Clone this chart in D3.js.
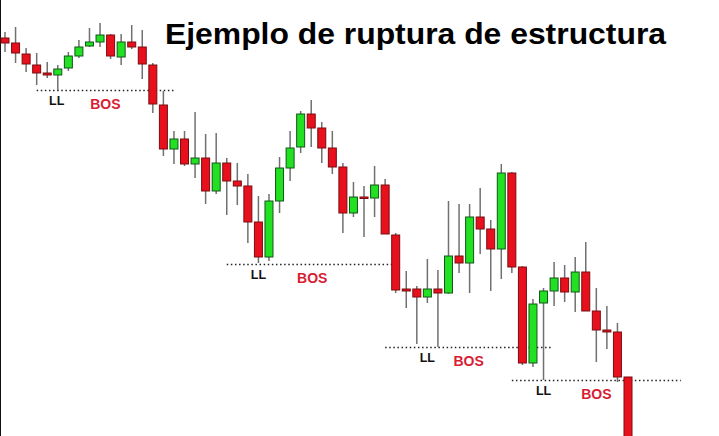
<!DOCTYPE html>
<html lang="es">
  <head>
    <meta charset="UTF-8" />
    <script src="https://d3js.org/d3.v7.min.js"></script>
    <title>Ejemplo de ruptura de estructura</title>
    <style>
      body { margin: 0; background: #fff; }
      svg { display: block; font-family: 'Liberation Sans', Arial, sans-serif; }
    </style>
  </head>
  <body>
    <script>
      const width = 719
      const height = 436

      // precios (unidades arbitrarias)
      const open  = [462,457,446,435,427,425,432,444,454,458,465,443,458,453,435,395,351,361,336,342,309,337,319,314,278,243,299,332,353,386,372,352,333,287,303,302,315,265,211,211,203,211,207,244,237,283,271,251,327,233,137,197,209,222,208,228,189,170,168,123]
      const high  = [468,473,452,447,438,435,448,460,472,477,466,466,475,470,437,409,369,369,388,366,367,342,337,326,304,306,343,369,389,400,378,369,337,318,314,334,321,267,229,214,241,230,299,296,296,312,280,336,328,234,201,212,238,235,243,258,212,194,177,123]
      const low   = [448,437,428,415,422,410,429,442,453,453,441,435,451,421,387,344,336,334,322,296,306,285,295,257,237,239,287,319,347,353,337,326,267,283,263,283,266,207,192,156,197,153,206,227,207,246,209,221,227,135,133,120,194,198,188,189,138,151,118,56]
      const close = [457,447,436,427,425,431,444,453,458,465,444,458,453,436,396,351,361,336,342,309,337,319,314,278,243,299,332,352,386,372,352,333,287,303,302,315,266,210,209,203,211,207,244,237,283,271,251,327,233,137,196,209,222,208,228,189,170,168,123,56]

      // niveles rotos: precio, desde / hasta (indice de vela), posicion de etiquetas
      const levelPrice = [410, 236, 153, 120]
      const levelFrom  = [3, 21, 36, 48]
      const levelTo    = [16, 36.7, 51.9, 64]
      const llAt       = [4.9, 24, 40, 51]
      const bosAt      = [9.5, 29.1, 43.9, 56]

      const title = 'Ejemplo de ruptura de estructura'

      const candles = open.map((o, i) => ({ i, o, h: high[i], l: low[i], c: close[i] }))

      const x = d3.scaleLinear().domain([0, 59]).range([5, 628])
      const y = d3.scaleLinear().domain([500, 64]).range([0, height])

      const svg = d3.select('body')
        .append('svg')
        .attr('width', width)
        .attr('height', height)

      svg.append('line')
        .attr('x1', 0.5).attr('x2', 0.5)
        .attr('y1', 0).attr('y2', height)
        .attr('stroke', '#111')

      const levels = levelPrice.map((p, k) => ({ p, from: levelFrom[k], to: levelTo[k], ll: llAt[k], bos: bosAt[k] }))

      svg.append('g')
        .selectAll('line')
        .data(levels)
        .join('line')
        .attr('x1', d => x(d.from))
        .attr('x2', d => x(d.to))
        .attr('y1', d => Math.round(y(d.p)) + 0.5)
        .attr('y2', d => Math.round(y(d.p)) + 0.5)
        .attr('stroke', '#222')
        .attr('stroke-width', 1.3)
        .attr('stroke-dasharray', '1.5,2.6')

      const g = svg.append('g')

      g.selectAll('line.wick')
        .data(candles)
        .join('line')
        .attr('class', 'wick')
        .attr('x1', d => x(d.i))
        .attr('x2', d => x(d.i))
        .attr('y1', d => y(d.h))
        .attr('y2', d => y(d.l))
        .attr('stroke', '#707070')
        .attr('stroke-width', 1.5)

      g.selectAll('rect')
        .data(candles)
        .join('rect')
        .attr('x', d => x(d.i) - 4)
        .attr('width', 8)
        .attr('y', d => y(Math.max(d.o, d.c)))
        .attr('height', d => Math.max(1.5, Math.abs(y(d.o) - y(d.c))))
        .attr('fill', d => d.c > d.o ? '#22e022' : '#e8101c')
        .attr('stroke', d => d.c > d.o ? '#14561a' : '#7a0c10')
        .attr('stroke-width', 1)

      svg.append('g')
        .selectAll('text')
        .data(levels)
        .join('text')
        .attr('x', d => x(d.ll))
        .attr('y', d => y(d.p) + 14.5)
        .attr('text-anchor', 'middle')
        .attr('font-size', 12.5)
        .attr('font-weight', 'bold')
        .attr('fill', '#111')
        .text('LL')

      svg.append('g')
        .selectAll('text')
        .data(levels)
        .join('text')
        .attr('x', d => x(d.bos))
        .attr('y', d => y(d.p) + 19)
        .attr('text-anchor', 'middle')
        .attr('font-size', 14)
        .attr('font-weight', 'bold')
        .attr('fill', '#d81d34')
        .text('BOS')

      svg.append('text')
        .attr('x', 165)
        .attr('y', 43.5)
        .attr('font-size', 29)
        .attr('font-weight', 'bold')
        .attr('fill', '#000')
        .attr('textLength', 501)
        .attr('lengthAdjust', 'spacingAndGlyphs')
        .text(title)
    </script>
  </body>
</html>
